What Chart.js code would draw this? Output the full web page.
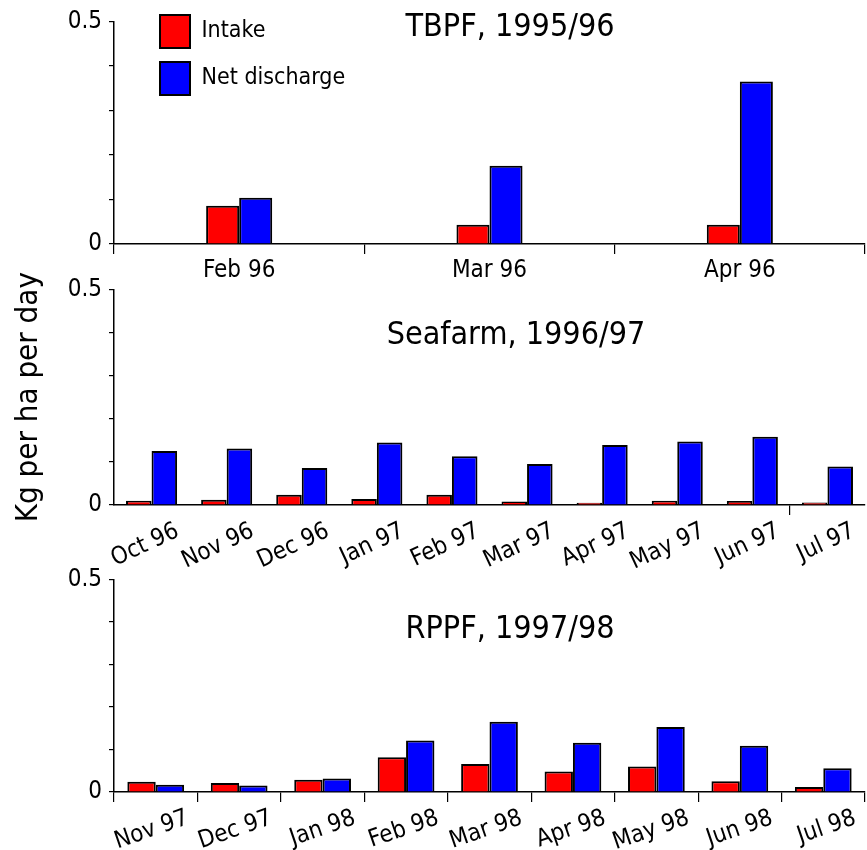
<!DOCTYPE html>
<html>
<head>
<meta charset="utf-8">
<title>Kg per ha per day</title>
<script src="https://cdn.jsdelivr.net/npm/chart.js@4.4.1/dist/chart.umd.min.js"></script>
<style>
    html, body { margin: 0; padding: 0; background: #fff; }
    #page { position: relative; width: 867px; height: 850px; overflow: hidden; }
    .panel { position: absolute; left: 0; width: 867px; }
    #p1 { top: 0; height: 290px; }
    #p2 { top: 268px; height: 312px; }
    #p3 { top: 558px; height: 292px; }
</style>
</head>
<body>
<div id="page">
    <div class="panel" id="p1"><canvas id="chart-tbpf"></canvas></div>
    <div class="panel" id="p2"><canvas id="chart-seafarm"></canvas></div>
    <div class="panel" id="p3"><canvas id="chart-rppf"></canvas></div>
</div>
<script>
const seriesNames = ['Intake', 'Net discharge'];
const yAxisLabel = 'Kg per ha per day';

// TBPF, 1995/96
const tbpfMonths = ['Feb 96', 'Mar 96', 'Apr 96'];
const tbpfIntake = [0.086, 0.043, 0.043];
const tbpfDischarge = [0.104, 0.176, 0.365];

// Seafarm, 1996/97
const seafarmMonths = ['Oct 96', 'Nov 96', 'Dec 96', 'Jan 97', 'Feb 97', 'Mar 97', 'Apr 97', 'May 97', 'Jun 97', 'Jul 97'];
const seafarmIntake = [0.010, 0.012, 0.024, 0.014, 0.024, 0.008, 0.005, 0.010, 0.009, 0.006];
const seafarmDischarge = [0.125, 0.131, 0.086, 0.145, 0.113, 0.095, 0.139, 0.147, 0.158, 0.089];

// RPPF, 1997/98
const rppfMonths = ['Nov 97', 'Dec 97', 'Jan 98', 'Feb 98', 'Mar 98', 'Apr 98', 'May 98', 'Jun 98', 'Jul 98'];
const rppfIntake = [0.024, 0.021, 0.029, 0.082, 0.066, 0.048, 0.060, 0.025, 0.012];
const rppfDischarge = [0.017, 0.015, 0.032, 0.121, 0.165, 0.116, 0.153, 0.109, 0.056];

const yTicksShown = [0, 0.5];

Chart.defaults.font.family = "'Liberation Sans Narrow', 'DejaVu Sans Condensed', 'Liberation Sans', sans-serif";
Chart.defaults.color = '#000';

// draws the panel title inside the plot, and moves the legend into place
const panelTitle = {
    id: 'panelTitle',
    afterLayout(chart, args, opts) {
        if (opts.legendAt && chart.legend) {
            chart.legend.left = opts.legendAt.x;
            chart.legend.top = opts.legendAt.y;
        }
    },
    afterDatasetsDraw(chart, args, opts) {
        if (!opts.text) return;
        const ctx = chart.ctx;
        ctx.save();
        ctx.font = '32px ' + Chart.defaults.font.family;
        ctx.fillStyle = '#000';
        ctx.textAlign = 'center';
        ctx.textBaseline = 'middle';
        ctx.fillText(opts.text, opts.x, opts.y);
        ctx.restore();
    }
};

function makePanel(id, cfg) {
    const datasets = [
        {
            label: seriesNames[0],
            data: cfg.intake,
            backgroundColor: '#ff0000',
            borderColor: '#000',
            borderWidth: 2
        },
        {
            label: seriesNames[1],
            data: cfg.discharge,
            backgroundColor: '#0000ff',
            borderColor: '#000',
            borderWidth: 2
        }
    ];

    return new Chart(document.getElementById(id), {
        type: 'bar',
        data: { labels: cfg.labels, datasets: datasets },
        options: {
            responsive: true,
            maintainAspectRatio: false,
            animation: false,
            datasets: {
                bar: { categoryPercentage: cfg.groupWidth, barPercentage: 1.0 }
            },
            layout: { padding: { top: cfg.padTop, right: 2, left: 0, bottom: 0 } },
            plugins: {
                legend: cfg.legend ? {
                    display: true,
                    position: 'chartArea',
                    align: 'start',
                    labels: {
                        boxWidth: 30,
                        boxHeight: 33,
                        padding: 14,
                        color: '#000',
                        font: { size: 23 }
                    }
                } : { display: false },
                tooltip: { enabled: false },
                panelTitle: {
                    text: cfg.title,
                    x: cfg.titleX,
                    y: cfg.titleY,
                    legendAt: cfg.legend ? { x: 146, y: 1 } : null
                }
            },
            scales: {
                x: {
                    border: { color: '#000', width: 1.5 },
                    grid: {
                        drawOnChartArea: false,
                        offset: true,
                        tickLength: 10,
                        lineWidth: 1.2,
                        color: cfg.tickColor || '#000'
                    },
                    ticks: {
                        autoSkip: false,
                        minRotation: cfg.rotation,
                        maxRotation: cfg.rotation,
                        labelOffset: cfg.labelOffset,
                        padding: 2,
                        color: '#000',
                        font: { size: 24 }
                    },
                    afterFit: scale => { scale.height = cfg.xHeight; }
                },
                y: {
                    min: 0,
                    max: 0.5,
                    border: { color: '#000', width: 1.5 },
                    grid: {
                        drawOnChartArea: false,
                        tickLength: 5,
                        lineWidth: 1.2,
                        color: '#000'
                    },
                    ticks: {
                        stepSize: 0.1,
                        padding: 7,
                        color: '#000',
                        font: { size: 24 },
                        callback: v => yTicksShown.some(t => Math.abs(t - v) < 1e-9) ? String(+v.toFixed(1)) : ''
                    },
                    title: {
                        display: !!cfg.yTitle,
                        text: yAxisLabel,
                        color: '#000',
                        font: { size: 31 },
                        padding: { top: 10, bottom: 0 }
                    },
                    afterFit: scale => { scale.width = 114; }
                }
            }
        },
        plugins: [panelTitle]
    });
}

makePanel('chart-tbpf', {
    labels: tbpfMonths,
    intake: tbpfIntake,
    discharge: tbpfDischarge,
    title: 'TBPF, 1995/96',
    titleX: 510,
    titleY: 28,
    legend: true,
    groupWidth: 0.264,
    rotation: 0,
    labelOffset: 0,
    padTop: 17,
    xHeight: 46
});

makePanel('chart-seafarm', {
    labels: seafarmMonths,
    intake: seafarmIntake,
    discharge: seafarmDischarge,
    title: 'Seafarm, 1996/97',
    titleX: 516,
    titleY: 68,
    legend: false,
    yTitle: true,
    groupWidth: 0.68,
    rotation: 25,
    labelOffset: 26,
    padTop: 15,
    xHeight: 75,
    tickColor: ctx => ctx.index === 9 ? '#000' : 'rgba(0,0,0,0)'
});

makePanel('chart-rppf', {
    labels: rppfMonths,
    intake: rppfIntake,
    discharge: rppfDischarge,
    title: 'RPPF, 1997/98',
    titleX: 510,
    titleY: 72,
    legend: false,
    groupWidth: 0.68,
    rotation: 19,
    labelOffset: 32,
    padTop: 16,
    xHeight: 58
});
</script>
</body>
</html>
